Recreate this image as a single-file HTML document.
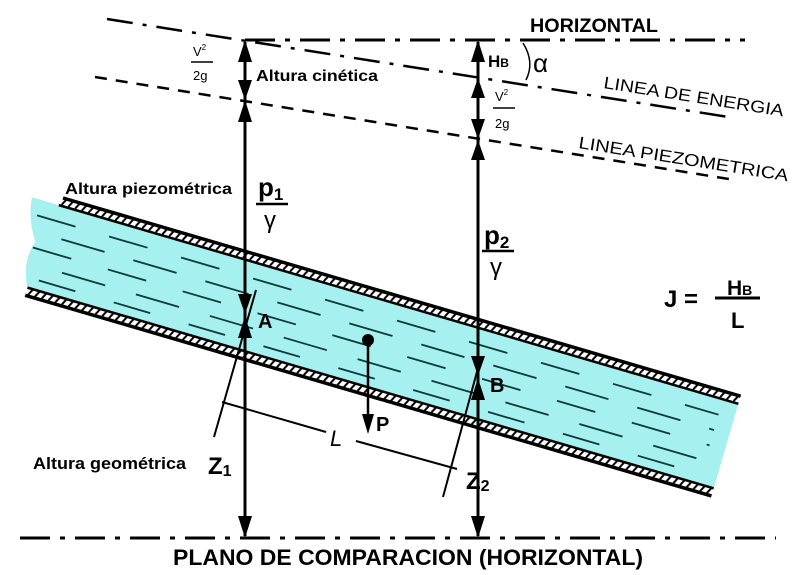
<!DOCTYPE html>
<html><head><meta charset="utf-8"><style>
html,body{margin:0;padding:0;background:#fff}
svg{display:block}
text{font-family:"Liberation Sans",sans-serif}
</style></head><body>
<svg width="801" height="575" viewBox="0 0 801 575" xmlns="http://www.w3.org/2000/svg">
<defs>
<pattern id="h" width="7" height="8" patternUnits="userSpaceOnUse">
<rect width="7" height="8" fill="#fff"/>
<line x1="0" y1="8" x2="4" y2="0" stroke="#000" stroke-width="2"/>
</pattern>
</defs>
<!-- pipe -->
<g transform="translate(63,198) rotate(16.3)">
<path d="M-30,8 L706,8 L706,96 L-9,96 Q-22,70 -14,50 Q-28,30 -30,8 Z" fill="#a6f0f0"/>
<rect x="0" y="0" width="706" height="8" fill="url(#h)"/>
<rect x="-9" y="96" width="715" height="8" fill="url(#h)"/>
<line x1="0" y1="0" x2="706" y2="0" stroke="#000" stroke-width="3.5"/>
<line x1="-2" y1="8" x2="706" y2="8" stroke="#000" stroke-width="2.5"/>
<line x1="-9" y1="96" x2="706" y2="96" stroke="#000" stroke-width="2.5"/>
<line x1="-9" y1="104" x2="706" y2="104" stroke="#000" stroke-width="3.5"/>
<g stroke="#0c3a3a" stroke-width="1.8">
<line x1="-20" y1="24" x2="690" y2="24" stroke-dasharray="40,35"/>
<line x1="10" y1="40" x2="690" y2="40" stroke-dasharray="45,30"/>
<line x1="-15" y1="56" x2="690" y2="56" stroke-dasharray="40,38"/>
<line x1="20" y1="72" x2="690" y2="72" stroke-dasharray="45,32"/>
<line x1="0" y1="86" x2="690" y2="86" stroke-dasharray="38,40"/>
</g>
</g>
<!-- reference lines -->
<g stroke="#000" stroke-width="3">
<line x1="245" y1="40" x2="745" y2="40" stroke-dasharray="30,10,5,10"/>
<line x1="20" y1="538" x2="776" y2="538" stroke-dasharray="30,10,5,10"/>
</g>
<line x1="107" y1="19" x2="735" y2="118" stroke="#000" stroke-width="2.5" stroke-dasharray="26,10,4,10"/>
<line x1="95" y1="77" x2="735" y2="180" stroke="#000" stroke-width="2.5" stroke-dasharray="12,9"/>
<!-- verticals -->
<g stroke="#000" stroke-width="3">
<line x1="245" y1="42" x2="245" y2="536"/>
<line x1="478" y1="42" x2="478" y2="536"/>
</g>
<g fill="#000">
<polygon points="245,40 238,62 252,62"/>
<polygon points="245,100 238,80 252,80"/>
<polygon points="245,100 238,122 252,122"/>
<polygon points="245,314 238,294 252,294"/>
<polygon points="245,316 238,338 252,338"/>
<polygon points="245,538 238,516 252,516"/>
<polygon points="478,40 471,62 485,62"/>
<polygon points="478,78 471,98 485,98"/>
<polygon points="478,139 471,119 485,119"/>
<polygon points="478,140 471,160 485,160"/>
<polygon points="478,376 471,356 485,356"/>
<polygon points="478,378 471,400 485,400"/>
<polygon points="478,538 471,516 485,516"/>
<circle cx="368" cy="340" r="6"/>
<polygon points="368,434 362,414 374,414"/>
</g>
<line x1="368" y1="340" x2="368" y2="420" stroke="#000" stroke-width="2.5"/>
<g stroke="#000" stroke-width="2">
<line x1="256" y1="290" x2="214" y2="437"/>
<line x1="478" y1="368" x2="443" y2="497"/>
<line x1="222" y1="402" x2="326" y2="432"/>
<line x1="356" y1="441" x2="457" y2="469"/>
</g>
<path d="M523,43 Q535,62 526,80" fill="none" stroke="#000" stroke-width="1.5"/>
<g font-weight="bold" fill="#000">
<text x="530" y="32" font-size="19" textLength="128" lengthAdjust="spacingAndGlyphs">HORIZONTAL</text>
<text x="256" y="81" font-size="16" textLength="122" lengthAdjust="spacingAndGlyphs">Altura cinética</text>
<text x="65" y="194" font-size="16" textLength="167" lengthAdjust="spacingAndGlyphs">Altura piezométrica</text>
<text x="33" y="469" font-size="17" textLength="153" lengthAdjust="spacingAndGlyphs">Altura geométrica</text>
<text x="173" y="565" font-size="22" textLength="470" lengthAdjust="spacingAndGlyphs">PLANO DE COMPARACION (HORIZONTAL)</text>
<text x="258" y="196" font-size="26">p<tspan font-size="17" dy="4">1</tspan></text>
<line x1="256" y1="204" x2="288" y2="204" stroke="#000" stroke-width="2.5"/>
<text x="264" y="228" font-size="24" font-weight="normal">γ</text>
<text x="484" y="244" font-size="26">p<tspan font-size="17" dy="4">2</tspan></text>
<line x1="482" y1="251" x2="514" y2="251" stroke="#000" stroke-width="2.5"/>
<text x="490" y="275" font-size="24" font-weight="normal">γ</text>
<text x="258" y="328" font-size="20">A</text>
<text x="490" y="392" font-size="20">B</text>
<text x="376" y="431" font-size="20">P</text>
<text x="330" y="446" font-size="22" font-style="italic" font-weight="normal">L</text>
<text x="208" y="474" font-size="24">Z<tspan font-size="16" dy="2">1</tspan></text>
<text x="466" y="489" font-size="24">Z<tspan font-size="16" dy="2">2</tspan></text>
<text x="488" y="67" font-size="17">H<tspan font-size="12">B</tspan></text>
<text x="664" y="307" font-size="24">J =</text>
<text x="727" y="295" font-size="21">H<tspan font-size="14">B</tspan></text>
<line x1="715" y1="298" x2="760" y2="298" stroke="#000" stroke-width="3"/>
<text x="731" y="328" font-size="22">L</text>
</g>
<text x="533" y="72" font-size="26" fill="#000">α</text>
<g font-size="13" fill="#000">
<text x="193" y="56">V<tspan font-size="8" dy="-6">2</tspan></text>
<line x1="191" y1="62" x2="213" y2="62" stroke="#000" stroke-width="1.5"/>
<text x="193" y="80">2g</text>
<text x="495" y="101">V<tspan font-size="8" dy="-6">2</tspan></text>
<line x1="493" y1="108" x2="515" y2="108" stroke="#000" stroke-width="1.5"/>
<text x="495" y="128">2g</text>
</g>
<g font-size="17" fill="#000">
<text transform="translate(603,88) rotate(9)" textLength="182" lengthAdjust="spacingAndGlyphs">LINEA DE ENERGIA</text>
<text transform="translate(578,148) rotate(9)" textLength="212" lengthAdjust="spacingAndGlyphs">LINEA PIEZOMETRICA</text>
</g>
</svg>
</body></html>
